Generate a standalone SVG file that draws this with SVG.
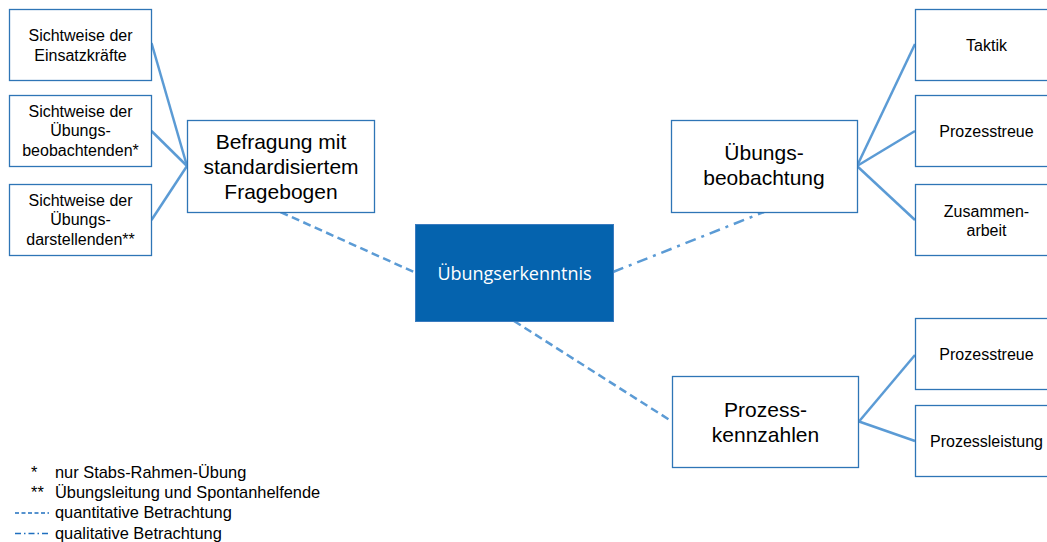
<svg xmlns="http://www.w3.org/2000/svg" width="1047" height="542" viewBox="0 0 1047 542">
  <style>
    .box { fill: #ffffff; stroke: #2E75B6; stroke-width: 1.3; }
    .core { fill: #0563AE; stroke: #3A7BBF; stroke-width: 1; }
    .t { font-family: "Liberation Sans", Arial, sans-serif; fill: #000000; text-anchor: middle; }
    .s { font-size: 16px; }
    .l { font-size: 21px; }
    .core-t { font-family: "Open Sans", "Noto Sans", sans-serif; font-size: 18px; fill: #ffffff; text-anchor: middle; }
    .leg { font-family: "Liberation Sans", Arial, sans-serif; font-size: 16.4px; fill: #000000; }
    .link { fill: none; stroke: #5B9BD5; stroke-width: 2.5; }
    .quant { fill: none; stroke: #5B9BD5; stroke-width: 2.5; stroke-dasharray: 8 4.5; }
    .qual { fill: none; stroke: #5B9BD5; stroke-width: 2.5; stroke-dasharray: 11 6 3 6; }
  </style>

  <!-- connectors -->
  <g id="connectors">
    <line class="link" x1="151.5" y1="43" x2="187" y2="166"/>
    <line class="link" x1="151.5" y1="131" x2="187" y2="166"/>
    <line class="link" x1="151.5" y1="220" x2="187" y2="166"/>
    <line class="link" x1="857" y1="166" x2="915" y2="44"/>
    <line class="link" x1="857" y1="166" x2="915" y2="131"/>
    <line class="link" x1="857" y1="166" x2="915" y2="220"/>
    <line class="link" x1="859" y1="421.5" x2="915" y2="355"/>
    <line class="link" x1="859" y1="421.5" x2="915" y2="441"/>
    <line class="quant" x1="280.5" y1="212" x2="415" y2="272.5"/>
    <line class="quant" x1="514" y1="321" x2="672" y2="421.5"/>
    <line class="qual" x1="613" y1="272" x2="764" y2="212"/>
  </g>

  <!-- left: survey perspectives -->
  <g id="node-einsatzkraefte">
    <rect class="box" x="9.5" y="9.5" width="142" height="71"/>
    <text class="t s" x="80.5" y="40.5">Sichtweise der</text>
    <text class="t s" x="80.5" y="60.5">Einsatzkräfte</text>
  </g>
  <g id="node-beobachtende">
    <rect class="box" x="9.5" y="95.5" width="142" height="71"/>
    <text class="t s" x="80.5" y="116.5">Sichtweise der</text>
    <text class="t s" x="80.5" y="136">Übungs-</text>
    <text class="t s" x="80.5" y="155.5">beobachtenden*</text>
  </g>
  <g id="node-darstellende">
    <rect class="box" x="9.5" y="184.5" width="142" height="71"/>
    <text class="t s" x="80.5" y="205.5">Sichtweise der</text>
    <text class="t s" x="80.5" y="225">Übungs-</text>
    <text class="t s" x="80.5" y="244.5">darstellenden**</text>
  </g>

  <g id="node-befragung">
    <rect class="box" x="187.5" y="120.5" width="187" height="92"/>
    <text class="t l" x="281" y="149">Befragung mit</text>
    <text class="t l" x="281" y="174">standardisiertem</text>
    <text class="t l" x="281" y="198.5">Fragebogen</text>
  </g>

  <!-- centre -->
  <g id="node-uebungserkenntnis">
    <rect class="core" x="415.5" y="224.5" width="198" height="97"/>
    <text class="core-t" x="514.5" y="280">Übungserkenntnis</text>
  </g>

  <!-- observation -->
  <g id="node-beobachtung">
    <rect class="box" x="671.5" y="120.5" width="186" height="92"/>
    <text class="t l" x="764" y="160">Übungs-</text>
    <text class="t l" x="764" y="185">beobachtung</text>
  </g>
  <g id="node-taktik">
    <rect class="box" x="915.5" y="9.5" width="143" height="71"/>
    <text class="t s" x="986.5" y="51">Taktik</text>
  </g>
  <g id="node-prozesstreue-1">
    <rect class="box" x="915.5" y="95.5" width="143" height="71"/>
    <text class="t s" x="986.5" y="136.5">Prozesstreue</text>
  </g>
  <g id="node-zusammenarbeit">
    <rect class="box" x="915.5" y="184.5" width="143" height="71"/>
    <text class="t s" x="986.5" y="216.5">Zusammen-</text>
    <text class="t s" x="986.5" y="236">arbeit</text>
  </g>

  <!-- process metrics -->
  <g id="node-kennzahlen">
    <rect class="box" x="672.5" y="376.5" width="186" height="91"/>
    <text class="t l" x="765.5" y="417">Prozess-</text>
    <text class="t l" x="765.5" y="442">kennzahlen</text>
  </g>
  <g id="node-prozesstreue-2">
    <rect class="box" x="915.5" y="318.5" width="143" height="71"/>
    <text class="t s" x="986.5" y="360">Prozesstreue</text>
  </g>
  <g id="node-prozessleistung">
    <rect class="box" x="915.5" y="405.5" width="143" height="71"/>
    <text class="t s" x="986.5" y="447">Prozessleistung</text>
  </g>

  <!-- legend -->
  <g id="legend">
    <text class="leg" x="31" y="477.5">*</text>
    <text class="leg" x="55" y="477.5">nur Stabs-Rahmen-Übung</text>
    <text class="leg" x="31" y="498">**</text>
    <text class="leg" x="55" y="498">Übungsleitung und Spontanhelfende</text>
    <line x1="15" y1="513" x2="49" y2="513" stroke="#1F6FBF" stroke-width="1.3" stroke-dasharray="4 2.5"/>
    <text class="leg" x="55" y="518">quantitative Betrachtung</text>
    <line x1="15" y1="533.5" x2="49" y2="533.5" stroke="#1F6FBF" stroke-width="1.3" stroke-dasharray="6 3 1.5 3"/>
    <text class="leg" x="55" y="538.5">qualitative Betrachtung</text>
  </g>
</svg>
